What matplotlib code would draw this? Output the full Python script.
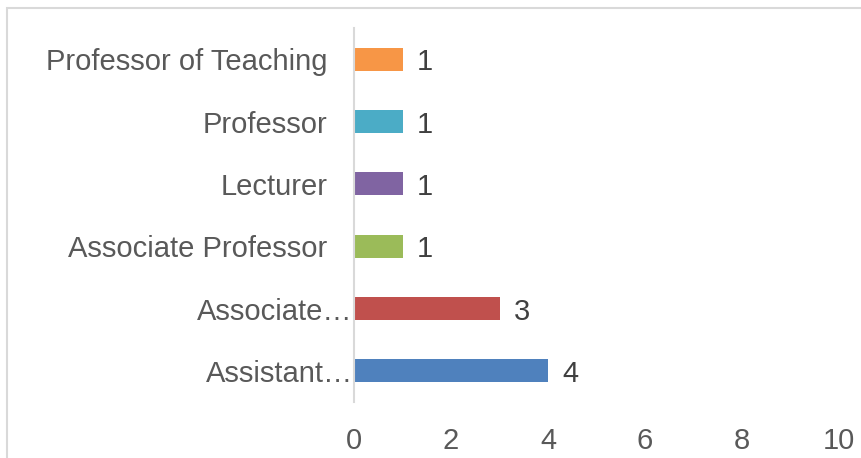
import matplotlib
matplotlib.use("Agg")
import matplotlib.pyplot as plt
from matplotlib.patches import Rectangle

categories = ["Assistant…", "Associate…", "Associate Professor", "Lecturer", "Professor", "Professor of Teaching"]
values = [4, 3, 1, 1, 1, 1]
colors = ["#4F81BD", "#C0504D", "#9BBB59", "#8064A2", "#4BACC6", "#F79646"]
xticks = [0, 2, 4, 6, 8, 10]

plt.rcParams['font.family'] = ['Liberation Sans', 'DejaVu Sans']

W, H = 861, 458
fig = plt.figure(figsize=(W/100, H/100), dpi=100)
fig.patch.set_facecolor("white")

# outer chart border (extends beyond image on right/bottom)
fig.patches.append(Rectangle((7/W, -0.1), 1.2, 1 - 8/H + 0.1, transform=fig.transFigure,
                             fill=False, edgecolor="#d9d9d9", linewidth=1.5, clip_on=False))

ax = fig.add_axes([354/W, 1 - 402/H, (839-354)/W, (402-28)/H])
y = list(range(len(categories)))
ax.barh(y, values, height=0.37, color=colors)
for yi, v in zip(y, values):
    ax.text(v + 0.3, yi, str(v), va="center_baseline", ha="left", fontsize=21, color="#404040")

ax.set_xlim(0, 10)
ax.set_ylim(-0.5, len(categories) - 0.5)
ax.set_xticks(xticks)
ax.set_xticklabels([str(t) for t in xticks])
ax.set_yticks(y)
ax.set_yticklabels([])
ax.tick_params(axis="both", length=0, labelsize=21, labelcolor="#595959")
ax.tick_params(axis="x", pad=18)

# category labels (truncated ones sit flush against the axis, like the original)
for yi, cat in zip(y, categories):
    pad = 1 if cat.endswith("…") else 19
    ax.annotate(cat, xy=(0, yi), xycoords=("data", "data"), xytext=(-pad, 0),
                textcoords="offset points", ha="right", va="center_baseline",
                fontsize=21, color="#595959", annotation_clip=False)

for s in ["top", "right", "bottom"]:
    ax.spines[s].set_visible(False)
ax.spines["left"].set_color("#d9d9d9")
ax.spines["left"].set_linewidth(1.5)

fig.savefig("out.png", dpi=100, facecolor="white")
